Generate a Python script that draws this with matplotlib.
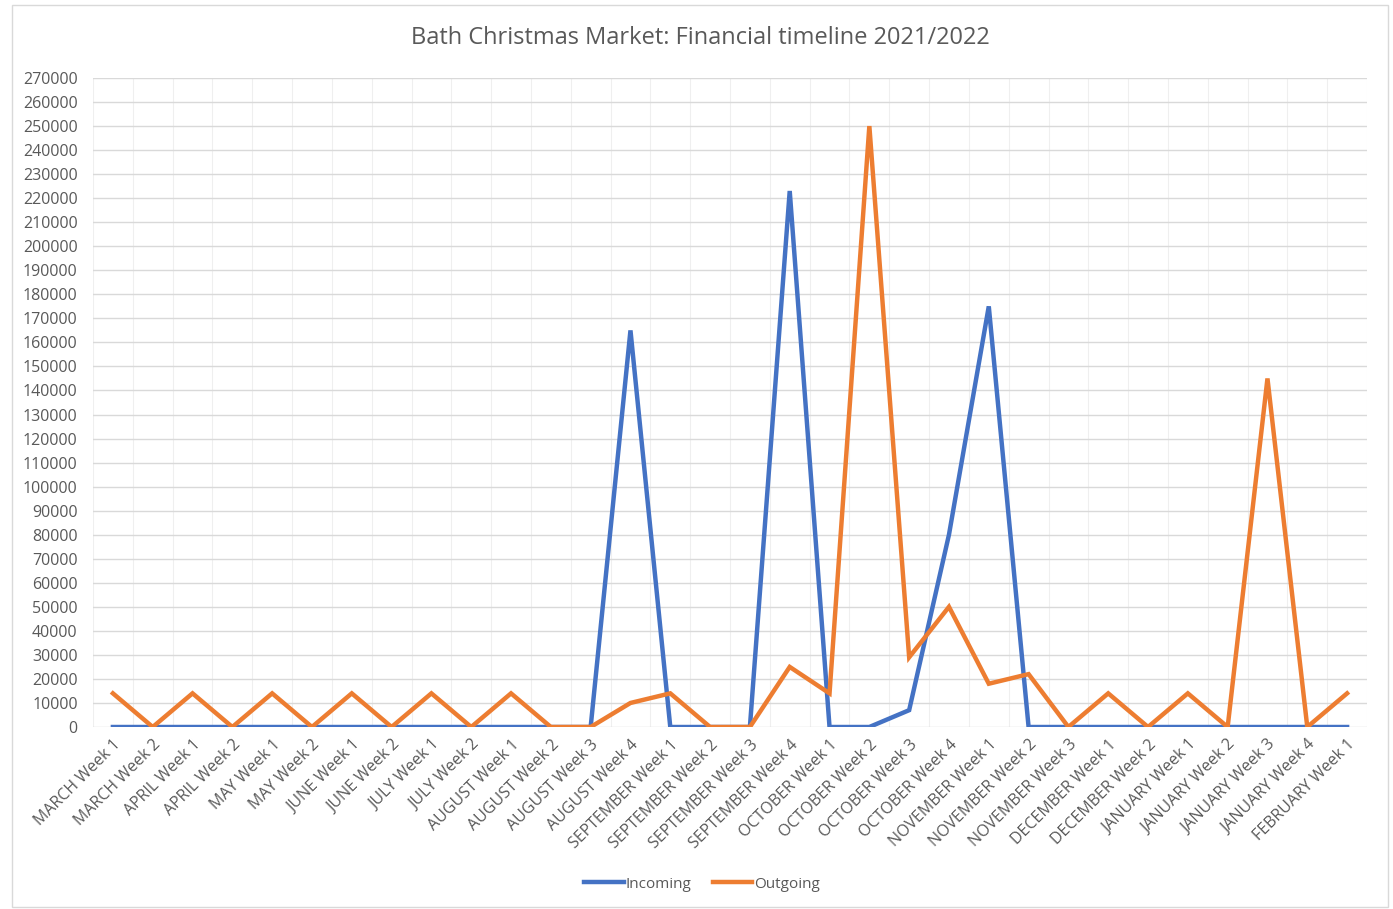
import matplotlib
matplotlib.use("Agg")
import matplotlib.pyplot as plt
from matplotlib.patches import Rectangle
import numpy as np

categories = ["MARCH Week 1", "MARCH Week 2", "APRIL Week 1", "APRIL Week 2",
              "MAY Week 1", "MAY Week 2", "JUNE Week 1", "JUNE Week 2",
              "JULY Week 1", "JULY Week 2", "AUGUST Week 1", "AUGUST Week 2",
              "AUGUST Week 3", "AUGUST Week 4", "SEPTEMBER Week 1", "SEPTEMBER Week 2",
              "SEPTEMBER Week 3", "SEPTEMBER Week 4", "OCTOBER Week 1", "OCTOBER Week 2",
              "OCTOBER Week 3", "OCTOBER Week 4", "NOVEMBER Week 1", "NOVEMBER Week 2",
              "NOVEMBER Week 3", "DECEMBER Week 1", "DECEMBER Week 2", "JANUARY Week 1",
              "JANUARY Week 2", "JANUARY Week 3", "JANUARY Week 4", "FEBRUARY Week 1"]

incoming = [0, 0, 0, 0, 0, 0, 0, 0, 0, 0, 0, 0, 0, 165000, 0, 0,
            0, 223000, 0, 0, 7000, 80000, 175000, 0, 0, 0, 0, 0,
            0, 0, 0, 0]

outgoing = [14000, 0, 14000, 0, 14000, 0, 14000, 0, 14000, 0, 14000, 0,
            0, 10000, 14000, 0, 0, 25000, 14000, 250000, 29000, 50000,
            18000, 22000, 0, 14000, 0, 14000, 0, 145000, 0, 14000]

title = "Bath Christmas Market: Financial timeline 2021/2022"

plt.rcParams['font.family'] = ['Open Sans', 'DejaVu Sans']
text_color = "#595959"

fig = plt.figure(figsize=(13.93, 9.09), dpi=100)
fig.patches.append(Rectangle((12/1393, 2/909), 1376/1393, 902/909, transform=fig.transFigure,
                             fill=False, edgecolor="#D9D9D9", linewidth=1))
ax = fig.add_axes([93/1393, 1 - 727/909, (1367 - 93)/1393, (727 - 78)/909])

x = np.arange(len(categories))
ax.plot(x, incoming, color="#4472C4", linewidth=3.2, label="Incoming", solid_joinstyle="miter")
ax.plot(x, outgoing, color="#ED7D31", linewidth=3.2, label="Outgoing", solid_joinstyle="miter")

ax.set_xlim(-0.5, len(categories) - 0.5)
ax.set_ylim(0, 270000)
ax.set_yticks(np.arange(0, 270001, 10000))
ax.set_yticklabels([str(v) for v in range(0, 270001, 10000)], fontsize=11.5, color=text_color)
ax.set_xticks(x)
ax.set_xticklabels(categories, rotation=45, ha="right", rotation_mode="anchor",
                   fontsize=11.5, color=text_color)
ax.set_xticks(np.arange(-0.5, len(categories), 0.5), minor=True)

ax.grid(axis="y", which="major", color="#D9D9D9", linewidth=1)
ax.grid(axis="x", which="minor", color="#EFEFEF", linewidth=0.8)
ax.set_axisbelow(True)
for s in ax.spines.values():
    s.set_visible(False)
ax.tick_params(axis="both", which="both", length=0, pad=7)
ax.tick_params(axis="y", pad=11)

fig.text(700/1393, 1 - 38/909, title, ha="center", va="center", fontsize=17, color=text_color)

leg = fig.legend(loc="center", bbox_to_anchor=(702/1393, 1 - 884/909), ncol=2, frameon=False,
                 fontsize=11, handlelength=2.6, handletextpad=0.1, columnspacing=1.4)
for t in leg.get_texts():
    t.set_color(text_color)

fig.savefig("out.png", dpi=100)
